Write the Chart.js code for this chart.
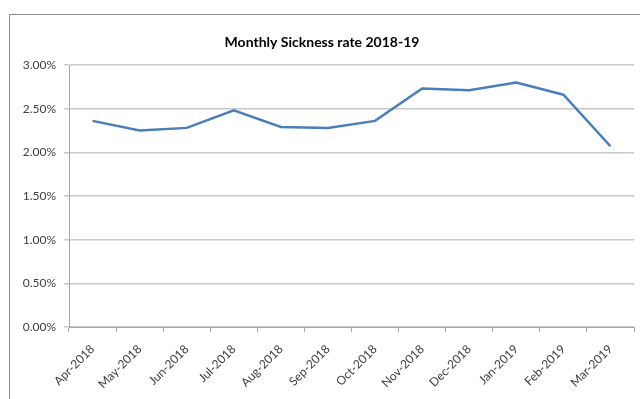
<!DOCTYPE html>
<html lang="en">
<head>
    <meta charset="UTF-8">
    <title>Monthly Sickness rate 2018-19</title>
    <script src="https://cdn.jsdelivr.net/npm/chart.js"></script>
    <style>
        html, body { margin: 0; padding: 0; background: #fff; overflow: hidden; }
        .frame {
            position: absolute;
            left: 9px;
            top: 14px;
            width: 700px;
            height: 420px;
            border-left: 1px solid #8c8c8c;
            border-top: 1px solid #8c8c8c;
        }
    </style>
</head>
<body>
    <div class="frame">
        <canvas id="sicknessChart" width="644" height="384"></canvas>
    </div>

    <script>
        // months and rates (%)
        const months = ['Apr-2018', 'May-2018', 'Jun-2018', 'Jul-2018', 'Aug-2018', 'Sep-2018',
                        'Oct-2018', 'Nov-2018', 'Dec-2018', 'Jan-2019', 'Feb-2019', 'Mar-2019'];
        const sicknessRate = [2.36, 2.25, 2.28, 2.48, 2.29, 2.28, 2.36, 2.73, 2.71, 2.80, 2.66, 2.07];
        const yMin = 0;
        const yMax = 3;
        const yStep = 0.5;

        const textColor = '#404040';
        const gridColor = '#c8c8c8';

        const ctx = document.getElementById('sicknessChart').getContext('2d');
        const chart = new Chart(ctx, {
            type: 'line',
            data: {
                labels: months,
                datasets: [{
                    label: 'Sickness rate',
                    data: sicknessRate,
                    borderColor: '#4a7ebb',
                    borderWidth: 2.5,
                    pointRadius: 0,
                    tension: 0,
                    fill: false
                }]
            },
            options: {
                responsive: false,
                animation: false,
                layout: { padding: { left: 0, right: 20, top: 0, bottom: 0 } },
                plugins: {
                    legend: { display: false },
                    tooltip: { enabled: false },
                    title: {
                        display: true,
                        text: 'Monthly Sickness rate 2018-19',
                        color: '#000',
                        font: { family: 'Lato', size: 14, weight: 'bold' },
                        padding: { top: 18.6, bottom: 14.6 }
                    }
                },
                scales: {
                    x: {
                        offset: true,
                        grid: {
                            offset: true,
                            drawOnChartArea: false,
                            drawTicks: true,
                            tickLength: 5,
                            color: '#a6a6a6'
                        },
                        border: { color: '#a6a6a6', width: 1 },
                        ticks: {
                            color: textColor,
                            font: { family: 'Lato', size: 12 },
                            minRotation: 45,
                            maxRotation: 45,
                            padding: 10,
                            autoSkip: false
                        },
                        afterFit: function (scale) { scale.height = 72; }
                    },
                    y: {
                        min: yMin,
                        max: yMax,
                        grid: {
                            color: gridColor,
                            lineWidth: 1.5,
                            tickLength: 5
                        },
                        border: { color: '#a6a6a6', width: 1 },
                        ticks: {
                            stepSize: yStep,
                            color: textColor,
                            font: { family: 'Lato', size: 12 },
                            padding: 8,
                            callback: function (v) { return v.toFixed(2) + '%'; }
                        },
                        afterFit: function (scale) { scale.width = 59; }
                    }
                }
            }
        });
    </script>
</body>
</html>
